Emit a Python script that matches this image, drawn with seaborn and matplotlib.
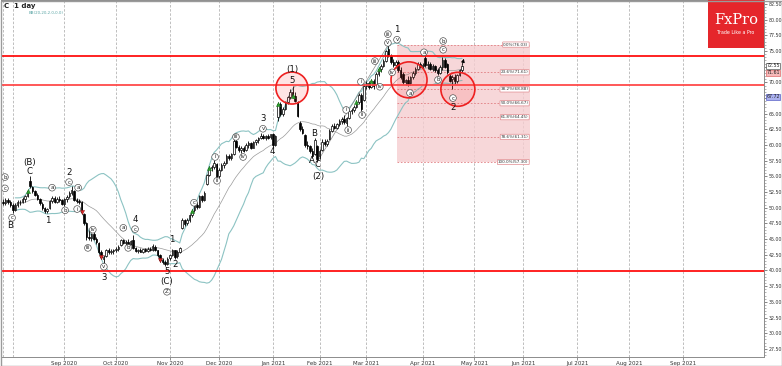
import numpy as np
import pandas as pd
import matplotlib
matplotlib.use("Agg")
import matplotlib.pyplot as plt
import seaborn as sns
from matplotlib.patches import Ellipse, Rectangle
from matplotlib.ticker import MultipleLocator
import matplotlib.transforms as mtransforms

sns.set_theme(style="white")
plt.rcParams['font.family'] = ['DejaVu Sans']

# ---------------- data ----------------
symbol = "C"
timeframe = "1 day"
indicator_label = "BB(20,20,2.0,0.0)"
first_day = "2020-07-28"
last_axis_day = "2021-09-30"
holidays = ["2020-09-07", "2020-11-26", "2020-12-25", "2021-01-01", "2021-01-18",
            "2021-02-15", "2021-04-02", "2021-05-31", "2021-07-05", "2021-09-06"]

opens = [50.9, 50.8, 51.2, 50.9, 50.5, 49.7, 50.5, 50.9, 51.0, 51.4, 51.9, 54.3, 53.3, 52.6, 52.0, 51.4, 50.6, 49.9, 49.5, 49.9,
         51.1, 51.5, 51.0, 51.4, 51.2, 50.6, 51.4, 51.8, 52.3, 52.6, 51.3, 51.1, 50.9, 49.0, 47.5, 45.4, 45.2, 45.8, 45.1, 44.4,
         42.9, 41.9, 42.3, 43.2, 42.9, 43.1, 43.3, 43.4, 44.0, 44.8, 44.4, 44.6, 44.3, 44.8, 43.6, 43.1, 43.3, 43.0, 43.4, 43.1,
         43.5, 43.3, 43.8, 43.2, 42.4, 41.7, 41.4, 41.1, 42.0, 42.5, 43.2, 42.3, 43.0, 46.8, 48.0, 47.5, 48.0, 48.8, 49.6, 50.5,
         50.2, 51.8, 51.3, 53.8, 55.3, 56.3, 56.5, 57.0, 55.0, 56.1, 56.8, 57.2, 58.2, 57.9, 58.6, 60.6, 59.7, 59.2, 59.5, 59.2,
         60.0, 60.3, 59.6, 60.5, 60.8, 61.1, 61.5, 61.2, 61.4, 61.3, 61.8, 60.0, 64.4, 66.6, 65.0, 65.8, 66.8, 67.6, 68.4, 67.9,
         66.9, 63.5, 62.6, 61.6, 60.0, 59.8, 59.1, 58.6, 59.8, 58.2, 59.2, 60.5, 60.2, 61.0, 62.3, 63.0, 62.8, 63.3, 63.9, 64.2,
         63.6, 64.3, 65.4, 65.6, 66.1, 66.9, 68.0, 67.2, 69.4, 69.9, 69.3, 70.2, 69.6, 71.3, 72.2, 72.6, 73.4, 75.4, 74.2, 73.2,
         72.8, 73.3, 72.0, 71.4, 70.1, 70.4, 69.9, 70.8, 71.5, 72.1, 72.9, 72.6, 73.9, 72.7, 73.0, 72.2, 72.6, 71.9, 71.5, 72.5,
         73.6, 72.9, 71.0, 70.6, 70.9, 70.2, 71.2, 71.9]
highs = [51.4, 51.5, 51.6, 51.2, 50.8, 50.7, 51.2, 51.3, 51.7, 52.0, 52.9, 55.0, 53.5, 52.9, 52.3, 51.6, 50.9, 50.2, 50.0, 51.3,
         51.8, 51.8, 51.7, 51.9, 51.4, 51.6, 52.0, 52.6, 53.4, 52.8, 51.6, 51.4, 51.1, 49.2, 47.7, 46.5, 46.0, 46.2, 45.3, 44.6,
         43.2, 42.4, 43.5, 43.6, 43.4, 43.5, 43.7, 44.0, 45.0, 45.1, 44.9, 45.0, 44.9, 45.7, 43.8, 43.5, 43.6, 43.5, 43.6, 43.7,
         43.8, 44.2, 44.0, 43.3, 42.6, 42.0, 41.7, 42.1, 42.6, 43.5, 43.3, 43.2, 43.8, 48.4, 48.2, 48.3, 49.0, 49.8, 50.8, 51.0,
         52.1, 52.0, 52.6, 55.4, 56.6, 56.9, 57.6, 57.2, 56.4, 57.1, 57.4, 58.5, 58.6, 58.8, 61.0, 61.1, 60.0, 59.8, 59.9, 60.3,
         60.6, 60.5, 60.7, 61.0, 61.3, 61.9, 61.8, 61.6, 61.7, 61.8, 62.0, 61.6, 66.9, 66.9, 66.1, 67.0, 67.9, 68.9, 69.5, 68.4,
         67.1, 63.8, 63.0, 61.8, 60.6, 60.0, 59.5, 61.2, 60.0, 59.4, 60.9, 61.0, 61.0, 62.6, 63.4, 63.5, 63.6, 64.2, 64.5, 64.8,
         64.5, 65.7, 65.9, 66.4, 67.2, 68.3, 68.3, 69.7, 70.2, 70.3, 70.5, 70.6, 71.6, 72.5, 73.0, 73.7, 75.2, 76.03, 74.6, 73.7,
         73.6, 73.6, 72.5, 71.6, 70.6, 71.0, 71.0, 71.8, 72.4, 73.2, 73.3, 73.1, 74.3, 73.4, 73.2, 72.9, 72.8, 72.3, 72.8, 74.0,
         73.9, 73.1, 71.4, 71.1, 71.3, 71.3, 72.2, 72.8]
lows = [50.4, 50.5, 50.6, 50.2, 49.2, 49.5, 50.1, 50.4, 50.7, 51.0, 51.7, 53.2, 52.3, 51.8, 51.2, 50.5, 49.7, 49.2, 49.1, 49.8,
        50.8, 50.8, 50.8, 50.9, 50.4, 50.3, 51.0, 51.6, 52.1, 51.1, 50.8, 50.6, 49.0, 47.2, 44.9, 44.8, 44.7, 44.9, 44.2, 42.6,
        41.8, 41.2, 42.1, 42.7, 42.6, 42.7, 42.9, 43.1, 43.9, 44.2, 44.1, 44.2, 44.1, 43.4, 42.9, 42.8, 42.9, 42.8, 42.9, 42.9,
        43.1, 43.1, 43.1, 42.2, 41.4, 41.1, 40.7, 40.9, 41.7, 42.3, 41.9, 42.0, 42.8, 46.6, 47.1, 47.3, 47.8, 48.6, 49.4, 49.8,
        50.0, 51.0, 51.1, 53.6, 55.0, 55.8, 56.2, 54.4, 54.8, 55.9, 56.3, 57.0, 57.6, 57.7, 58.4, 59.5, 58.9, 58.8, 58.9, 59.0,
        59.6, 59.4, 59.5, 60.0, 60.3, 60.9, 60.9, 60.8, 60.9, 61.0, 59.6, 59.8, 63.8, 64.6, 64.7, 65.6, 66.5, 67.3, 67.5, 66.9,
        64.4, 62.2, 61.8, 59.7, 59.4, 58.8, 58.0, 58.4, 57.3, 57.8, 59.0, 59.8, 59.9, 60.8, 62.1, 62.5, 62.6, 63.0, 63.3, 63.4,
        63.0, 64.1, 64.9, 65.3, 65.9, 66.6, 65.5, 67.0, 69.0, 68.9, 69.1, 69.0, 69.4, 71.0, 71.6, 72.4, 73.2, 74.0, 72.9, 72.4,
        72.3, 71.7, 70.6, 69.8, 69.6, 69.5, 69.6, 70.5, 71.2, 71.9, 72.3, 72.2, 72.4, 72.2, 71.9, 71.8, 71.6, 71.2, 71.3, 72.0,
        72.3, 71.3, 70.0, 69.0, 69.8, 69.9, 71.0, 71.6]
closes = [50.8, 51.2, 50.9, 50.5, 49.6, 50.5, 50.9, 51.0, 51.4, 51.8, 52.7, 53.4, 52.6, 52.0, 51.4, 50.7, 49.9, 49.5, 49.8, 51.1,
          51.5, 51.0, 51.4, 51.2, 50.6, 51.4, 51.7, 52.3, 52.9, 51.3, 51.1, 50.9, 49.3, 47.5, 45.3, 45.2, 45.8, 45.1, 44.5, 42.9,
          42.1, 42.2, 43.2, 42.9, 43.1, 43.3, 43.4, 43.8, 44.8, 44.4, 44.6, 44.3, 44.7, 43.6, 43.1, 43.3, 43.0, 43.4, 43.1, 43.5,
          43.3, 43.9, 43.3, 42.4, 41.7, 41.4, 41.0, 41.9, 42.4, 43.2, 42.2, 43.0, 43.6, 48.0, 47.4, 48.0, 48.8, 49.5, 50.5, 50.2,
          51.8, 51.3, 52.4, 55.2, 56.3, 56.5, 57.1, 54.8, 56.1, 56.8, 57.2, 58.2, 57.9, 58.5, 60.6, 59.7, 59.2, 59.5, 59.1, 60.0,
          60.3, 59.6, 60.5, 60.8, 61.1, 61.5, 61.2, 61.4, 61.1, 61.7, 60.0, 61.4, 66.6, 65.0, 65.8, 66.8, 67.6, 68.5, 67.9, 67.1,
          64.7, 62.5, 62.0, 60.0, 59.8, 59.1, 58.3, 60.8, 57.8, 59.1, 60.5, 60.2, 60.7, 62.3, 63.0, 62.8, 63.3, 63.9, 64.2, 63.7,
          64.3, 65.4, 65.6, 66.1, 66.9, 68.0, 65.8, 69.4, 69.9, 69.2, 70.2, 69.5, 71.3, 72.2, 72.6, 73.4, 75.0, 74.3, 73.2, 72.8,
          73.3, 72.0, 70.9, 70.1, 70.4, 69.8, 70.8, 71.5, 72.1, 72.9, 72.6, 72.8, 72.7, 73.0, 72.2, 72.6, 71.9, 71.5, 72.5, 73.6,
          72.5, 71.6, 70.3, 70.9, 70.2, 71.1, 71.9, 72.55]

bb_period = 20
bb_dev = 2.0

# horizontal support / resistance levels
level_values = [74.21, 69.58, 39.92]
level_colors = ["#ff1010", "#ff4a4a", "#ff1010"]

# Fibonacci retracement
fib_labels = ["0.0%(76.03)", "23.6%(71.61)", "38.2%(68.88)", "50.0%(66.67)",
              "61.8%(64.45)", "78.6%(61.31)", "100.0%(57.30)"]
fib_values = [76.03, 71.61, 68.88, 66.67, 64.45, 61.31, 57.30]
fib_start_idx = 160.5
fib_end_idx = 214.7

# price tags on right axis
tag_texts = ["72.55", "71.61", "67.72"]
tag_values = [72.65, 71.52, 67.72]
tag_face = ["#ffffff", "#f6b9b9", "#aab0ee"]
tag_edge = ["#555555", "#e06a6a", "#5a62c8"]

# Elliott wave labels: (text, index, price, circled)
wave_labels = [
    ("B", 2.9, 47.1, False), ("(B)", 11, 57.3, False), ("C", 11, 55.8, False),
    ("1", 18.3, 48.0, False), ("2", 26.9, 55.7, False), ("3", 41.1, 38.9, False),
    ("4", 53.8, 48.2, False), ("5", 66.8, 39.9, False), ("(C)", 66.8, 38.3, False),
    ("1", 68.9, 44.9, False), ("2", 70.1, 40.9, False), ("3", 106.0, 64.2, False),
    ("4", 109.6, 58.9, False), ("(1)", 117.7, 72.1, False), ("5", 117.7, 70.3, False),
    ("B", 126.7, 61.9, False), ("A", 125.9, 57.6, False), ("C", 128.3, 56.9, False),
    ("(2)", 128.3, 55.0, False), ("1", 160.5, 78.4, False), ("2", 183.3, 66.0, False),
    ("b", 0.8, 54.9, True), ("c", 0.8, 53.1, True), ("c", 3.7, 48.4, True),
    ("a", 20.0, 53.2, True), ("b", 25.3, 49.6, True), ("c", 26.9, 54.1, True),
    ("a", 30.6, 53.2, True), ("i", 30.2, 49.8, True), ("iv", 36.6, 46.5, True),
    ("iii", 34.6, 43.6, True), ("v", 41.1, 40.6, True), ("a", 49.0, 46.8, True),
    ("b", 51.0, 43.6, True), ("c", 53.8, 46.6, True), ("Z", 66.8, 36.6, True),
    ("c", 77.8, 50.8, True), ("i", 86.4, 58.1, True), ("ii", 87.2, 54.3, True),
    ("iii", 94.9, 61.3, True), ("iv", 97.8, 58.1, True), ("v", 105.9, 62.6, True),
    ("i", 139.8, 65.6, True), ("ii", 140.6, 62.4, True), ("i", 145.8, 70.1, True),
    ("ii", 146.3, 64.8, True), ("iii", 151.5, 73.4, True), ("iv", 153.5, 69.3, True),
    ("v", 156.8, 76.3, True), ("iii", 156.8, 77.7, True), ("v", 160.5, 76.8, True),
    ("iv", 158.5, 71.6, True), ("a", 165.8, 68.3, True), ("a", 171.5, 74.8, True),
    ("b", 177.2, 70.4, True), ("c", 179.3, 75.2, True), ("b", 179.3, 76.6, True),
    ("c", 183.3, 67.5, True),
]

# highlighted turning zones (index, price, radius in px)
zone_idx = [117.7, 165.4, 185.3]
zone_val = [69.1, 70.4, 68.9]
zone_rad = [16, 18, 17]

# signal arrows
buy_idx = [10, 77, 84, 112, 118, 144, 150, 153]
sell_idx = [32, 40, 64]

# ---------------- figure ----------------
W, H = 782, 366
fig = plt.figure(figsize=(W / 100, H / 100), dpi=100)
fig.patch.set_facecolor("white")
ax = fig.add_axes([1 / W, 9 / H, 763 / W, 357 / H])
ax.set_facecolor("white")

o = np.array(opens); h = np.array(highs); l = np.array(lows); c = np.array(closes)
n = len(c)
x = np.arange(n)

all_days = pd.bdate_range(first_day, last_axis_day)
all_days = all_days[~all_days.isin(pd.to_datetime(holidays))]

ax.set_xlim(-0.81, 310.0)
ax.set_ylim(26.2, 83.14)

# month gridlines / ticks
pos = pd.Series(np.arange(len(all_days)), index=all_days)
firsts = pos.groupby([all_days.year, all_days.month]).first()
tick_pos, tick_lab = [], []
for (yy, mm), p in firsts.items():
    ax.axvline(p, color="#b4b4b4", lw=0.6, ls=(0, (3, 2)), zorder=0)
    if p > 10:
        tick_pos.append(p)
        tick_lab.append(pd.Timestamp(year=yy, month=mm, day=1).strftime("%b %Y"))
ax.set_xticks(tick_pos)
ax.set_xticklabels(tick_lab, fontsize=4.0, color="#333333")
ax.tick_params(axis="x", length=2, pad=1, width=0.5, color="#666666", bottom=True)

# fib box
ax.add_patch(Rectangle((fib_start_idx, fib_values[-1]), fib_end_idx - fib_start_idx,
                       fib_values[0] - fib_values[-1], fc="#f5cdd0", ec="none", alpha=0.8, zorder=0.5))
for lab, v in zip(fib_labels, fib_values):
    ax.hlines(v, fib_start_idx, fib_end_idx - 0.3, color="#e07c80", lw=0.6, ls=(0, (2, 2)), zorder=0.6)
    ax.text(fib_end_idx - 0.6, v, lab, fontsize=3.0, ha="right", va="center", color="#333333", zorder=5,
            bbox=dict(boxstyle="round,pad=0.15", fc="white", ec="#e08a8e", lw=0.5))

# levels
for v, col in zip(level_values, level_colors):
    ax.axhline(v, color=col, lw=1.3, zorder=3)

# bollinger bands
cs = pd.Series(c)
mid = cs.rolling(bb_period, min_periods=6).mean()
sd = cs.rolling(bb_period, min_periods=6).std(ddof=0)
bb = pd.DataFrame({"i": x, "upper": mid + bb_dev * sd, "mid": mid, "lower": mid - bb_dev * sd})
sns.lineplot(data=bb, x="i", y="upper", ax=ax, color="#8cc3c3", lw=0.8, zorder=1)
sns.lineplot(data=bb, x="i", y="lower", ax=ax, color="#8cc3c3", lw=0.8, zorder=1)
sns.lineplot(data=bb, x="i", y="mid", ax=ax, color="#9a9a9a", lw=0.5, zorder=1)

# trend line from wave (2) low to wave 1 high
i_lo = int(np.argmin(l[120:140])) + 120
i_hi = int(np.argmax(h))
ax.plot([i_lo, i_hi], [l[i_lo], h[i_hi]], color="#8a8a8a", lw=0.5, zorder=1)

# candles
up = c >= o
ax.vlines(x, l, h, color="black", lw=0.6, zorder=2)
ax.bar(x[up], np.maximum(c - o, 0.08)[up], bottom=o[up], width=0.62, color="white",
       edgecolor="black", linewidth=0.5, zorder=2.5)
ax.bar(x[~up], (o - c)[~up], bottom=c[~up], width=0.62, color="black",
       edgecolor="black", linewidth=0.5, zorder=2.5)

# signal arrows
bi = np.array(buy_idx); si = np.array(sell_idx)
ax.scatter(bi, c[bi], marker="^", s=9, color="#2ca02c", edgecolor="#1d6e1d", lw=0.3, zorder=4)
ax.scatter(si, c[si], marker="v", s=9, color="#d62728", edgecolor="#8a1010", lw=0.3, zorder=4)

# zones (circles)
pxx = 763 / (310.0 + 0.81)
pxy = 357 / (83.14 - 26.2)
for zi, zv, zr in zip(zone_idx, zone_val, zone_rad):
    ax.add_patch(Ellipse((zi, zv), 2 * zr / pxx, 2 * zr / pxy, fc=(1, 0.2, 0.2, 0.13),
                         ec="#ee2020", lw=1.2, zorder=3.5))

# wave labels
for t, wi, wv, circ in wave_labels:
    if circ:
        ax.text(wi, wv, t, fontsize=4.0, ha="center", va="center", color="#222222", zorder=6,
                bbox=dict(boxstyle="circle,pad=0.15", fc="white", ec="#444444", lw=0.45))
    else:
        ax.text(wi, wv, t, fontsize=6.2, ha="center", va="center", color="#111111", zorder=6)

# projection arrow
ax.annotate("", xy=(188.0, 74.2), xytext=(186.8, 72.3),
            arrowprops=dict(arrowstyle="-|>", color="black", lw=0.6, mutation_scale=5), zorder=6)

# right axis (tick labels hidden where a price tag sits on top of them)
def fmt_price(v, p):
    if any(abs(v - tv) < 0.6 for tv in tag_values):
        return ""
    return f"{v:.2f}"

ax.yaxis.tick_right()
ax.yaxis.set_major_locator(MultipleLocator(2.5))
ax.yaxis.set_minor_locator(MultipleLocator(0.5))
ax.yaxis.set_major_formatter(matplotlib.ticker.FuncFormatter(fmt_price))
ax.tick_params(axis="y", which="major", length=2.5, width=0.5, pad=1.0, labelsize=3.4,
               labelcolor="#333333", color="#555555", right=True, left=False)
ax.tick_params(axis="y", which="minor", length=1.3, width=0.4, color="#777777", right=True, left=False)
ax.set_xlabel(""); ax.set_ylabel("")

trans = mtransforms.blended_transform_factory(ax.transAxes, ax.transData)
for t, v, fc_, ec_ in zip(tag_texts, tag_values, tag_face, tag_edge):
    ax.text(1.003, v, t, transform=trans, fontsize=3.4, ha="left", va="center", color="#222222",
            zorder=7, clip_on=False, bbox=dict(boxstyle="square,pad=0.12", fc=fc_, ec=ec_, lw=0.5))

for s in ax.spines.values():
    s.set_color("#8c8c8c"); s.set_linewidth(0.7)

# header texts
fig.text(4 / W, 1 - 6 / H, symbol, fontsize=5, fontweight="bold", color="#222222", va="center")
fig.text(14 / W, 1 - 6 / H, timeframe, fontsize=5, fontweight="bold", color="#222222", va="center")
fig.text(29 / W, 1 - 13 / H, indicator_label, fontsize=2.9, color="#5aa5a5", va="center")

# logo
fig.patches.append(Rectangle((708 / W, 1 - 48 / H), 56 / W, 48 / H, transform=fig.transFigure,
                             fc="#e5262b", ec="none", zorder=10))
fig.text(736 / W, 1 - 20 / H, "FxPro", fontsize=10.5, color="white", family="DejaVu Serif",
         ha="center", va="center", zorder=11)
fig.text(736 / W, 1 - 32 / H, "Trade Like a Pro", fontsize=3.4, color="white",
         ha="center", va="center", zorder=11)

# outer border
fig.patches.append(Rectangle((0.5 / W, 0.5 / H), 1 - 1 / W, 1 - 1 / H, transform=fig.transFigure,
                             fill=False, ec="#9a9a9a", lw=1.0, zorder=12))

fig.savefig("out.png", dpi=100)
